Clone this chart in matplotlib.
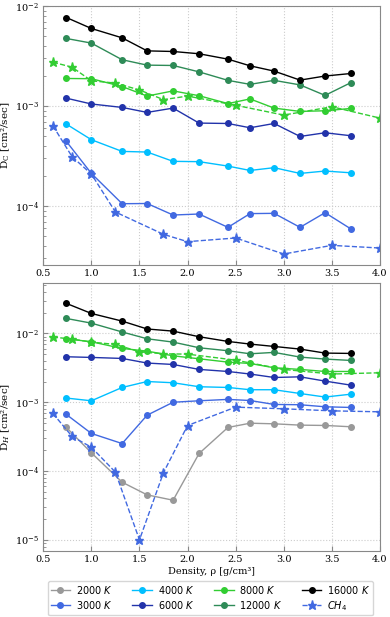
import numpy as np
import matplotlib
matplotlib.use("Agg")
import matplotlib.pyplot as plt

# Densités (g/cm3)
rho = [0.74, 1.0, 1.32, 1.58, 1.85, 2.12, 2.42, 2.65, 2.9, 3.17, 3.43, 3.7]
rho_ch4 = [0.6, 0.8, 1.0, 1.25, 1.5, 1.75, 2.0, 2.5, 3.0, 3.5, 4.0]
rho_ch4_c = [0.6, 0.8, 1.0, 1.25, 1.75, 2.0, 2.5, 3.0, 3.5, 4.0]

# D_C (cm2/sec)
dc_3000 = [4.43e-4, 2.12e-4, 1.055e-4, 1.06e-4, 8.13e-5, 8.32e-5, 6.12e-5, 8.4e-5, 8.45e-5, 6.12e-5, 8.58e-5, 5.89e-5]
dc_4000 = [6.6e-4, 4.61e-4, 3.52e-4, 3.47e-4, 2.8e-4, 2.78e-4, 2.51e-4, 2.27e-4, 2.42e-4, 2.12e-4, 2.24e-4, 2.15e-4]
dc_6000 = [1.2e-3, 1.05e-3, 9.7e-4, 8.65e-4, 9.55e-4, 6.76e-4, 6.7e-4, 6.07e-4, 6.7e-4, 4.97e-4, 5.41e-4, 5.05e-4]
dc_8000 = [1.89e-3, 1.88e-3, 1.57e-3, 1.26e-3, 1.42e-3, 1.27e-3, 1.06e-3, 1.18e-3, 9.55e-4, 8.85e-4, 8.98e-4, 9.48e-4]
dc_12000 = [4.75e-3, 4.27e-3, 2.91e-3, 2.57e-3, 2.55e-3, 2.2e-3, 1.81e-3, 1.65e-3, 1.81e-3, 1.63e-3, 1.28e-3, 1.72e-3]
dc_16000 = [7.7e-3, 5.98e-3, 4.82e-3, 3.57e-3, 3.52e-3, 3.34e-3, 2.95e-3, 2.53e-3, 2.24e-3, 1.82e-3, 2.0e-3, 2.12e-3]
dc_ch4_blue = [6.36e-4, 3.11e-4, 2.09e-4, 8.71e-5, 5.21e-5, 4.4e-5, 4.79e-5, 3.31e-5, 4.04e-5, 3.8e-5]
dc_ch4_green = [2.75e-3, 2.45e-3, 1.79e-3, 1.70e-3, 1.45e-3, 1.16e-3, 1.26e-3, 1.02e-3, 8.13e-4, 9.85e-4, 7.59e-4]

# D_H (cm2/sec)
dh_2000 = [4.3e-4, 1.84e-4, 6.89e-5, 4.51e-5, 3.77e-5, 1.8e-4, 4.3e-4, 4.96e-4, 4.86e-4, 4.65e-4, 4.6e-4, 4.4e-4]
dh_3000 = [6.64e-4, 3.52e-4, 2.51e-4, 6.49e-4, 1.0e-3, 1.05e-3, 1.1e-3, 1.06e-3, 9.29e-4, 9.2e-4, 8.59e-4, 8.4e-4]
dh_4000 = [1.15e-3, 1.05e-3, 1.64e-3, 2.0e-3, 1.92e-3, 1.68e-3, 1.64e-3, 1.52e-3, 1.52e-3, 1.34e-3, 1.19e-3, 1.31e-3]
dh_6000 = [4.58e-3, 4.48e-3, 4.33e-3, 3.71e-3, 3.54e-3, 3.0e-3, 2.8e-3, 2.57e-3, 2.29e-3, 2.34e-3, 2.03e-3, 1.77e-3]
dh_8000 = [8.36e-3, 7.56e-3, 6.05e-3, 5.53e-3, 4.73e-3, 4.28e-3, 3.83e-3, 3.66e-3, 3.17e-3, 3.0e-3, 2.8e-3, 2.8e-3]
dh_12000 = [1.65e-2, 1.41e-2, 1.05e-2, 8.36e-3, 7.48e-3, 6.19e-3, 5.6e-3, 5.06e-3, 5.3e-3, 4.53e-3, 4.24e-3, 4.05e-3]
dh_16000 = [2.73e-2, 1.95e-2, 1.51e-2, 1.16e-2, 1.08e-2, 8.95e-3, 7.65e-3, 7.0e-3, 6.47e-3, 5.92e-3, 5.18e-3, 5.12e-3]
dh_ch4_blue = [6.87e-4, 3.18e-4, 2.22e-4, 9.64e-5, 1.0e-5, 9.5e-5, 4.59e-4, 8.49e-4, 8.03e-4, 7.5e-4, 7.26e-4]
dh_ch4_green = [8.85e-3, 8.27e-3, 7.48e-3, 6.92e-3, 5.41e-3, 5.06e-3, 5.0e-3, 4.09e-3, 3.0e-3, 2.57e-3, 2.68e-3]

couleurs = {
    "2000": "#999999",
    "3000": "royalblue",
    "4000": "deepskyblue",
    "6000": "#2233aa",
    "8000": "limegreen",
    "12000": "seagreen",
    "16000": "black",
}

plt.rcParams["font.family"] = "DejaVu Serif"
plt.rcParams["mathtext.fontset"] = "dejavuserif"

fig = plt.figure(figsize=(3.9, 6.17), dpi=100)
ax1 = fig.add_axes([0.111, 0.5705, 0.863, 0.4195])
ax2 = fig.add_axes([0.111, 0.107, 0.863, 0.4343])

kw = dict(marker="o", ms=4, lw=1.0)
star = dict(marker="*", ms=6.5, lw=1.0, ls="--")

## Panneau du haut : carbone
for key, vals in [("3000", dc_3000), ("4000", dc_4000), ("6000", dc_6000),
                  ("8000", dc_8000), ("12000", dc_12000), ("16000", dc_16000)]:
    ax1.plot(rho, vals, color=couleurs[key], **kw)
ax1.plot(rho_ch4_c, dc_ch4_blue, color="royalblue", **star)
ax1.plot(rho_ch4, dc_ch4_green, color="limegreen", **star)
ax1.set_ylim(2.57e-5, 1e-2)
ax1.set_ylabel(r"$\mathrm{D_C}$ [cm²/sec]", fontsize=7.5, labelpad=2)

## Panneau du bas : hydrogène
handles = []
for key, vals in [("2000", dh_2000), ("3000", dh_3000), ("4000", dh_4000),
                  ("6000", dh_6000), ("8000", dh_8000), ("12000", dh_12000),
                  ("16000", dh_16000)]:
    (h,) = ax2.plot(rho, vals, color=couleurs[key], label=f"{key} $K$", **kw)
    handles.append(h)
(h,) = ax2.plot(rho_ch4, dh_ch4_blue, color="royalblue", label="$CH_4$", **star)
handles.append(h)
ax2.plot(rho_ch4, dh_ch4_green, color="limegreen", **star)
ax2.set_ylim(6.9e-6, 5.4e-2)
ax2.set_ylabel(r"D$_H$ [cm²/sec]", fontsize=7.5, labelpad=2)
ax2.set_xlabel(r"Density, ρ [g/cm³]", fontsize=7, labelpad=2)

for ax in (ax1, ax2):
    ax.set_yscale("log")
    ax.set_xlim(0.5, 4.0)
    ax.set_xticks(np.arange(0.5, 4.01, 0.5))
    ax.grid(True, ls=":", color="#cccccc", lw=0.8)
    ax.tick_params(direction="in", labelsize=7, color="#888888", pad=3)
    ax.tick_params(which="minor", direction="in", color="#888888")
    for s in ax.spines.values():
        s.set_color("#888888")

plt.rcParams["mathtext.fontset"] = "dejavusans"
leg = fig.legend(handles=handles, ncol=4, loc="center", bbox_to_anchor=(0.54, 0.0305),
                 prop={"family": "DejaVu Sans", "size": 7}, handlelength=2.0,
                 columnspacing=2.0, handletextpad=0.6, labelspacing=0.3,
                 borderpad=0.3)

fig.savefig("out.png", dpi=100)
